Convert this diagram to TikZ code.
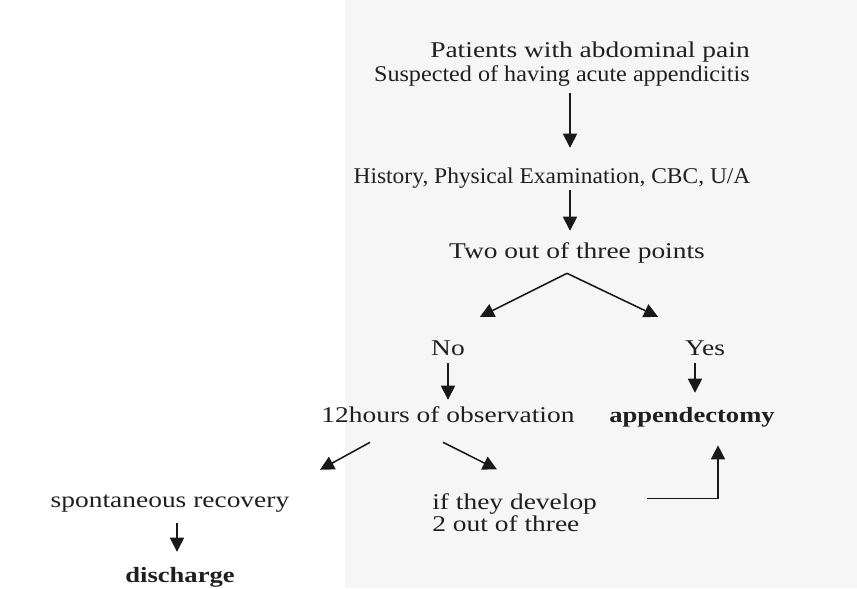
\documentclass[tikz,border=0pt]{standalone}
\usepackage{fontspec}
\usepackage{graphicx}
\setmainfont{Liberation Serif}[FakeStretch=1.22]
\usetikzlibrary{arrows.meta}

\tikzset{
  txt/.style={inner sep=0, anchor=base, text height=10.2pt, text depth=3.3pt,
    text=black!88, font=\fontsize{16}{17}\selectfont},
  bold/.style={txt, font=\fontsize{15.5}{17}\selectfont\bfseries},
  arr/.style={-{Triangle[width=10pt,length=10pt]}, line width=1.1pt, black!90}
}

\begin{document}
\begin{tikzpicture}[x=0.025cm, y=-0.025cm]
  \useasboundingbox (0,0) rectangle (857,588);
  \fill[fill=blue!3!gray!7] (345,0) rectangle (857,588);

  % Texte
  \node[txt, anchor=north east, align=right, text height=, text depth=] (patients) at (750,42)
    {Patients with abdominal pain\\\scalebox{0.88}[1]{Suspected of having acute appendicitis}};
  \node[txt] (history) at (552,183) {\scalebox{0.855}[1]{History, Physical Examination, CBC, U/A}};
  \node[txt] (points) at (577,258) {Two out of three points};
  \node[txt] (no) at (448,355) {No};
  \node[txt] (yes) at (705,355) {Yes};
  \node[txt] (observ) at (448,422) {12hours of observation};
  \node[bold] (appendect) at (692,422) {appendectomy};
  \node[txt] (recovery) at (170,507) {spontaneous recovery};
  \node[bold] (discharge) at (180,582) {discharge};
  \node[txt, anchor=north west, align=left, text height=, text depth=,
    font=\fontsize{16}{14.2}\selectfont] (develop) at (432,493)
    {if they develop\\2 out of three};

  % Pfeile
  \draw[arr] ([shift={(-180,6.4)}]patients.south east) -- ([shift={(18,-20.6)}]history.north);
  \draw[arr] ([shift={(18,2.4)}]history.south) -- ([shift={(-7,-12.6)}]points.north);
  \coordinate (split) at ([shift={(-10,10.4)}]points.south);
  \draw[arr] (split) -- ([shift={(32,-23.6)}]no.north);
  \draw[arr] (split) -- ([shift={(-47,-23.6)}]yes.north);
  \draw[arr] ([shift={(0,3.4)}]no.south) -- ([shift={(0,-7.6)}]observ.north);
  \draw[arr] ([shift={(-10,3.4)}]yes.south) -- ([shift={(3,-14.6)}]appendect.north);
  \draw[arr] ([shift={(-78,15.4)}]observ.south) -- ([shift={(150,-22.6)}]recovery.north);
  \draw[arr] ([shift={(-5,15.4)}]observ.south) -- ([shift={(65,-23.6)}]develop.north west);
  \draw[arr] ([shift={(7,11.4)}]recovery.south) -- ([shift={(-3,-15.6)}]discharge.north);
  \draw[arr] ([shift={(215,5.4)}]develop.north west) -| ([shift={(26,18.4)}]appendect.south);
\end{tikzpicture}
\end{document}
